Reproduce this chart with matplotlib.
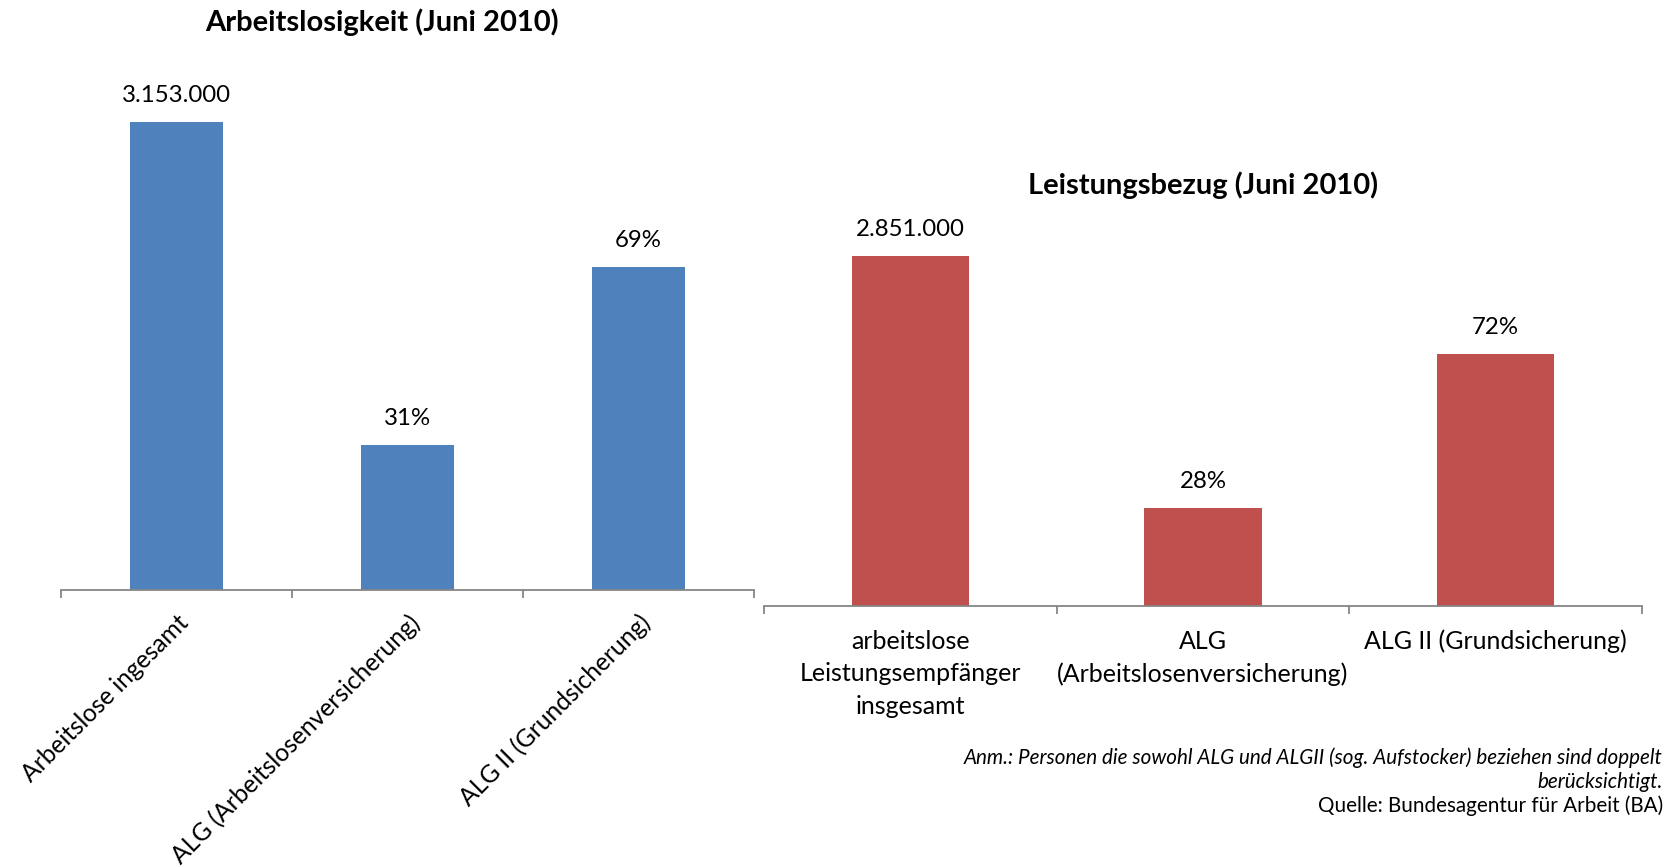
import matplotlib
matplotlib.use("Agg")
import matplotlib.pyplot as plt

# Daten (Juni 2010, Quelle: BA)
left_categories = ["Arbeitslose ingesamt", "ALG (Arbeitslosenversicherung)", "ALG II (Grundsicherung)"]
left_total = 3153000
left_shares = [1.0, 0.31, 0.69]

right_categories = ["arbeitslose\nLeistungsempfänger\ninsgesamt", "ALG\n(Arbeitslosenversicherung)",
                    "ALG II (Grundsicherung)"]
right_total = 2851000
right_shares = [1.0, 0.28, 0.72]

plt.rcParams['font.family'] = ["Lato", "DejaVu Sans"]
GRAY = '#868686'


def fmt(share, total):
    # erster Balken: absolute Zahl, sonst Anteil
    if share == 1.0:
        return f"{total:,}".replace(",", ".")
    return f"{round(share * 100)}%"


# Function to draw one bar panel
# param: axes, categories, total, shares, colour
def draw_panel(ax, cats, total, shares, color, ytop):
    heights = [total * s for s in shares]
    xs = range(len(cats))
    ax.bar(xs, heights, width=0.4, color=color, zorder=2)
    for x, h, s in zip(xs, heights, shares):
        ax.annotate(fmt(s, total), (x, h), xytext=(0, 19), textcoords='offset points',
                    ha='center', va='center', fontsize=17.3)
    ax.set_xlim(-0.5, len(cats) - 0.5)
    ax.set_ylim(0, total * ytop)
    for sp in ['left', 'top', 'right']:
        ax.spines[sp].set_visible(False)
    ax.spines['bottom'].set_color(GRAY)
    ax.spines['bottom'].set_linewidth(1.3)
    ax.set_yticks([])
    ax.set_xticks([x - 0.5 for x in range(len(cats) + 1)], minor=True)
    ax.tick_params(axis='x', which='minor', length=6, width=1.3, color=GRAY, direction='out')
    ax.tick_params(axis='x', which='major', length=0)


fig = plt.figure(figsize=(16.77, 8.67), dpi=100)

ax1 = fig.add_axes([61 / 1677, 1 - 590 / 867, 693 / 1677, 490 / 867])
draw_panel(ax1, left_categories, left_total, left_shares, '#4F81BD', 490 / 468)
ax1.set_xticks(range(3))
ax1.set_xticklabels(left_categories, rotation=45, ha='right', va='top',
                    rotation_mode='anchor', fontsize=17.7)
ax1.tick_params(axis='x', which='major', pad=15)

ax2 = fig.add_axes([764 / 1677, 1 - 606 / 867, 878 / 1677, 406 / 867])
draw_panel(ax2, right_categories, right_total, right_shares, '#C0504D', 406 / 350)
ax2.set_xticks(range(3))
ax2.set_xticklabels(right_categories, fontsize=18, linespacing=1.5)
ax2.tick_params(axis='x', which='major', pad=17)

fig.text(382 / 1677, 1 - 22 / 867, "Arbeitslosigkeit (Juni 2010)", ha='center', va='center',
         fontsize=21, fontweight='bold')
fig.text(1203 / 1677, 1 - 185 / 867, "Leistungsbezug (Juni 2010)", ha='center', va='center',
         fontsize=21, fontweight='bold')

fig.text(1663 / 1677, 1 - 758 / 867,
         "Anm.: Personen die sowohl ALG und ALGII (sog. Aufstocker) beziehen sind doppelt",
         ha='right', va='center', fontsize=14.9, style='italic')
fig.text(1663 / 1677, 1 - 782 / 867, "berücksichtigt.", ha='right', va='center',
         fontsize=14.9, style='italic')
fig.text(1663 / 1677, 1 - 806 / 867, "Quelle: Bundesagentur für Arbeit (BA)", ha='right',
         va='center', fontsize=14.9)

fig.savefig("out.png", dpi=100)
